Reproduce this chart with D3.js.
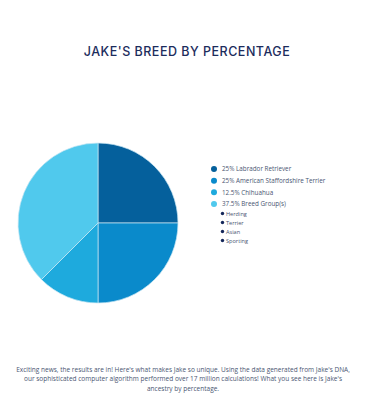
<!DOCTYPE html>
<html>
<head>
<meta charset="utf-8">
<script src="https://cdn.jsdelivr.net/npm/d3@7"></script>
<style>
  body { margin: 0; background: #fff; }
  svg { font-family: "Open Sans", sans-serif; }
</style>
</head>
<body>
<div id="vis"></div>
<script>
// data
var breeds = ["Labrador Retriever", "American Staffordshire Terrier", "Chihuahua", "Breed Group(s)"]
var percents = [25, 25, 12.5, 37.5]
var colors = ["#05609c", "#0a8acb", "#1eaadd", "#50c9ed"]
var groups = ["Herding", "Terrier", "Asian", "Sporting"]
var footer = [
  "Exciting news, the results are in! Here's what makes Jake so unique. Using the data generated from Jake's DNA,",
  "our sophisticated computer algorithm performed over 17 million calculations! What you see here is Jake's",
  "ancestry by percentage."
]

var width = 368, height = 400
var cx = 98, cy = 223, r = 80

var svg = d3.select("#vis").append("svg")
  .attr("width", width)
  .attr("height", height)

svg.append("text")
  .attr("x", 187)
  .attr("y", 56)
  .attr("text-anchor", "middle")
  .attr("fill", "#1c2c5c")
  .style("font-family", "Inter, sans-serif")
  .style("font-size", "12.5px")
  .style("font-weight", "500")
  .style("letter-spacing", "0.5px")
  .text("JAKE'S BREED BY PERCENTAGE")

var pie = d3.pie().sort(null).value(d => d)
var arc = d3.arc().innerRadius(0).outerRadius(r)

svg.append("g")
  .attr("transform", `translate(${cx},${cy})`)
  .selectAll("path")
  .data(pie(percents))
  .enter().append("path")
  .attr("d", arc)
  .attr("fill", (d, i) => colors[i])
  .attr("stroke", "#c8e6f3")
  .attr("stroke-width", 0.7)

//legend
var ly = d3.scalePoint().domain(d3.range(breeds.length)).range([169, 204])
var legend = svg.append("g")
legend.selectAll("circle")
  .data(breeds)
  .enter().append("circle")
  .attr("cx", 214)
  .attr("cy", (d, i) => ly(i))
  .attr("r", 3)
  .attr("fill", (d, i) => colors[i])
legend.selectAll("text")
  .data(breeds)
  .enter().append("text")
  .attr("x", 222)
  .attr("y", (d, i) => ly(i) + 2.2)
  .attr("fill", "#4a5672")
  .style("font-size", "6.3px")
  .text((d, i) => percents[i] + "% " + d)

var gy = d3.scalePoint().domain(d3.range(groups.length)).range([213.5, 240.5])
var sub = svg.append("g")
sub.selectAll("circle")
  .data(groups)
  .enter().append("circle")
  .attr("cx", 222.5)
  .attr("cy", (d, i) => gy(i))
  .attr("r", 1.7)
  .attr("fill", "#14275a")
sub.selectAll("text")
  .data(groups)
  .enter().append("text")
  .attr("x", 226)
  .attr("y", (d, i) => gy(i) + 2)
  .attr("fill", "#4a5672")
  .style("font-size", "5.6px")
  .text(d => d)

svg.append("g").selectAll("text")
  .data(footer)
  .enter().append("text")
  .attr("x", 183)
  .attr("y", (d, i) => 372 + i * 9.3)
  .attr("text-anchor", "middle")
  .attr("fill", "#4a5672")
  .style("font-size", "6.5px")
  .text(d => d)
</script>
</body>
</html>
